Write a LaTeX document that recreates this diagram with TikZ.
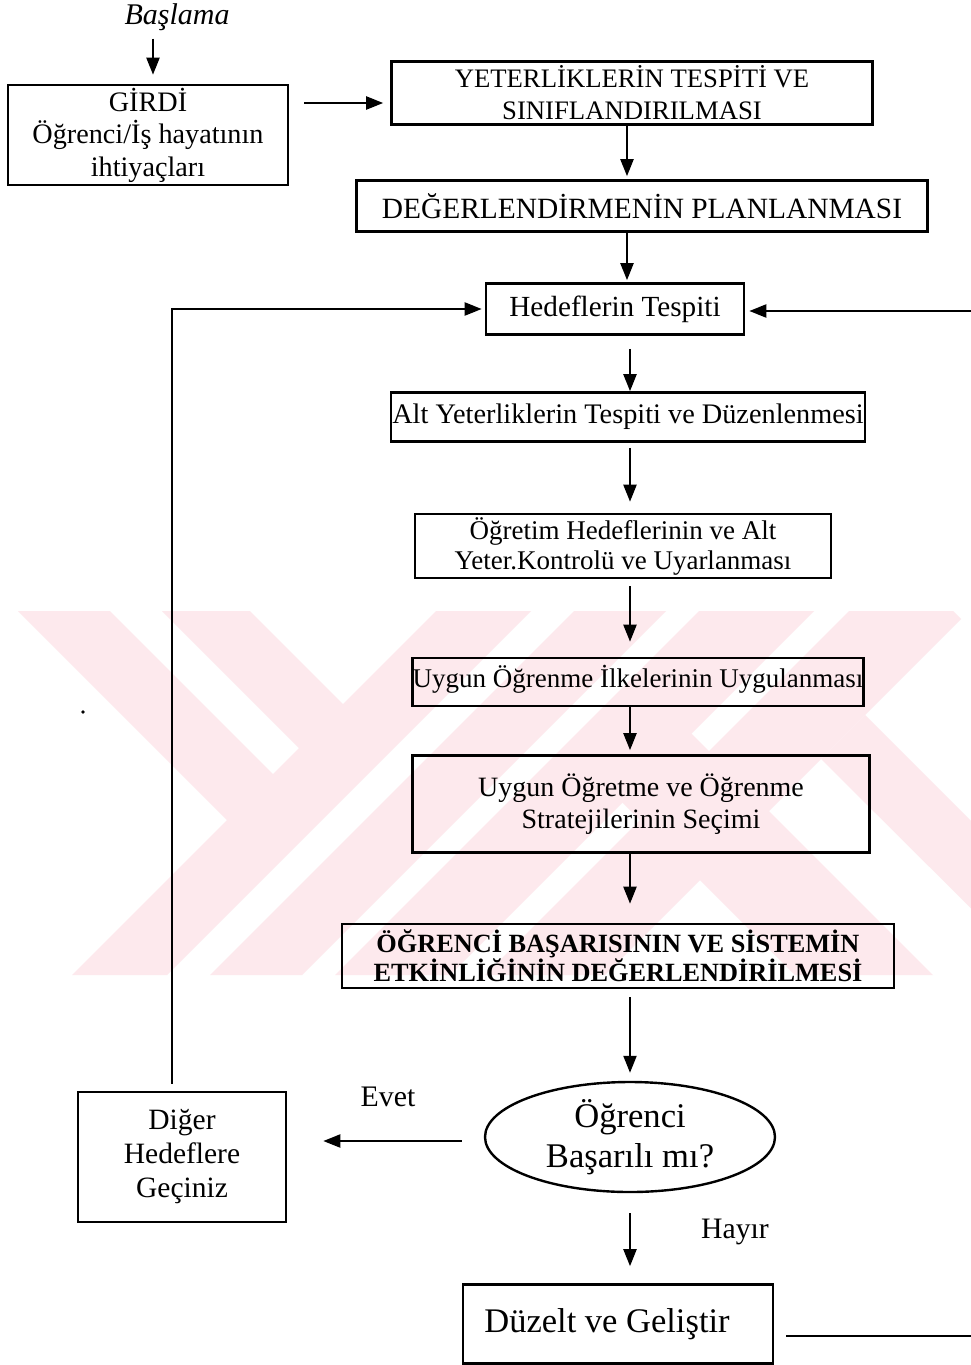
\documentclass[tikz,border=0pt]{standalone}
\usepackage{fontspec}
\setmainfont{Liberation Serif}
\usetikzlibrary{arrows.meta,shapes.geometric}
\definecolor{wm}{RGB}{253,233,237}
\begin{document}
\begin{tikzpicture}[x=1pt,y=-1pt,
  box/.style={draw, line width=2.6pt, align=center, inner sep=0pt},
  arr/.style={line width=2.1pt, -{Triangle[length=17pt,width=13pt]}},
  ln/.style={line width=2.1pt},
  lbl/.style={inner sep=0pt}
]
\useasboundingbox (0,0) rectangle (971,1365);
\fill[white] (0,0) rectangle (971,1365);
% watermark
\begin{scope}
\clip (18,611) rectangle (971,975);
\fill[wm] (18,611) -- (110,611) -- (297,798) -- (251,844) -- cycle;
\fill[wm] (162,611) -- (250,611) -- (367,728) -- (323,772) -- cycle;
\fill[wm] (436,611) -- (531,611) -- (167,975) -- (72,975) -- cycle;
\fill[wm] (574,611) -- (666,611) -- (302,975) -- (210,975) -- cycle;
\fill[wm] (699,611) -- (814,611) -- (450,975) -- (335,975) -- cycle;
\fill[wm] (849,611) -- (953,611) -- (961,619) -- (605,975) -- (485,975) -- cycle;
\fill[wm] (610,790) -- (679,721) -- (933,975) -- (795,975) -- cycle;
\fill[wm] (821,759) -- (865,715) -- (1125,975) -- (1038,975) -- cycle;
\end{scope}
% nodes
\node[lbl, font=\itshape\fontsize{30}{34}\selectfont] (start) at (177,17) {Başlama};
\node[box, font=\fontsize{28.2}{32.5}\selectfont, minimum width=280, minimum height=100] (girdi) at (148,135)
  {GİRDİ\\Öğrenci/İş hayatının\\ihtiyaçları};
\node[box, font=\fontsize{26.7}{32}\selectfont, minimum width=481, minimum height=63] (yet) at (632,93)
  {YETERLİKLERİN TESPİTİ VE\\SINIFLANDIRILMASI};
\node[box, font=\fontsize{29.4}{32}\selectfont, minimum width=571, minimum height=51] (deg) at (642,206)
  {DEĞERLENDİRMENİN PLANLANMASI};
\node[box, font=\fontsize{29.2}{32}\selectfont, minimum width=258, minimum height=51] (hed) at (615,309)
  {Hedeflerin Tespiti};
\node[box, font=\fontsize{28.3}{32}\selectfont, minimum width=474, minimum height=49] (alt) at (628,417)
  {Alt Yeterliklerin Tespiti ve Düzenlenmesi};
\node[box, font=\fontsize{27}{30}\selectfont, minimum width=416, minimum height=64] (ogr) at (623,546)
  {Öğretim Hedeflerinin ve Alt\\Yeter.Kontrolü ve Uyarlanması};
\node[box, font=\fontsize{27}{30}\selectfont, minimum width=447, minimum height=48] (uyg) at (638,682)
  {Uygun Öğrenme İlkelerinin Uygulanması\rule[-12pt]{0pt}{0pt}};
\node[box, font=\fontsize{28}{32}\selectfont, minimum width=457, minimum height=97] (str) at (641,804)
  {Uygun Öğretme ve Öğrenme\\Stratejilerinin Seçimi};
\node[box, font=\bfseries\fontsize{26.3}{28}\selectfont, minimum width=552, minimum height=64] (bas) at (618,956)
  {ÖĞRENCİ BAŞARISININ VE SİSTEMİN\\ETKİNLİĞİNİN DEĞERLENDİRİLMESİ};
\node[draw, ellipse, line width=2.4pt, align=center, inner sep=0pt, font=\fontsize{34.6}{40}\selectfont,
  minimum width=290, minimum height=110] (ell) at (630,1137)
  {Öğrenci\\Başarılı mı?};
\node[box, font=\fontsize{29.5}{34}\selectfont, minimum width=208, minimum height=130] (dig) at (182,1157)
  {Diğer\\Hedeflere\\Geçiniz};
\node[box, font=\fontsize{34.5}{40}\selectfont, minimum width=310, minimum height=79] (duz) at (618,1324)
  {\hspace*{-22pt}Düzelt ve Geliştir};
\node[lbl, font=\fontsize{29.8}{34}\selectfont] (evet) at (388,1097) {Evet};
\node[lbl, font=\fontsize{29.7}{34}\selectfont] (hayir) at (735,1232) {Hayır};
\fill (83,712) circle (1.8);
\coordinate (c1) at (627,0);
\coordinate (c2) at (630,0);
\coordinate (rin) at (971,311);
\coordinate (rout) at (971,1336);
% connectors
\draw[arr, shorten <=8, shorten >=9] ([xshift=-24]start.south) -- ([xshift=-24]start.south |- girdi.north);
\draw[arr, shorten <=15, shorten >=7] ([yshift=-10]yet.west -| girdi.east) -- ([yshift=-10]yet.west);
\draw[arr, shorten >=3] (yet.south -| c1) -- (deg.north -| c1);
\draw[arr, shorten >=2] (deg.south -| c1) -- (hed.north -| c1);
\draw[arr, shorten <=13] (hed.south -| c2) -- (alt.north -| c2);
\draw[arr, shorten <=5, shorten >=11] (alt.south -| c2) -- (ogr.north -| c2);
\draw[arr, shorten <=7, shorten >=15] (ogr.south -| c2) -- (uyg.north -| c2);
\draw[arr, shorten >=4] (uyg.south -| c2) -- (str.north -| c2);
\draw[arr, shorten >=19] (str.south -| c2) -- (bas.north -| c2);
\draw[arr, shorten <=8, shorten >=8] (bas.south -| c2) -- (ell.north);
\draw[arr, shorten <=22, shorten >=36] ([yshift=-4]ell.west) -- ([yshift=-4]ell.west -| dig.east);
\draw[arr, shorten <=20, shorten >=17] (ell.south) -- (duz.north -| ell.south);
\draw[arr, shorten <=7, shorten >=3] ([xshift=-10]dig.north) |- (hed.west);
\draw[arr, shorten >=4] (rin) -- (rin -| hed.east);
\draw[ln, shorten <=12] (duz.east |- rout) -- (rout);
\end{tikzpicture}
\end{document}
